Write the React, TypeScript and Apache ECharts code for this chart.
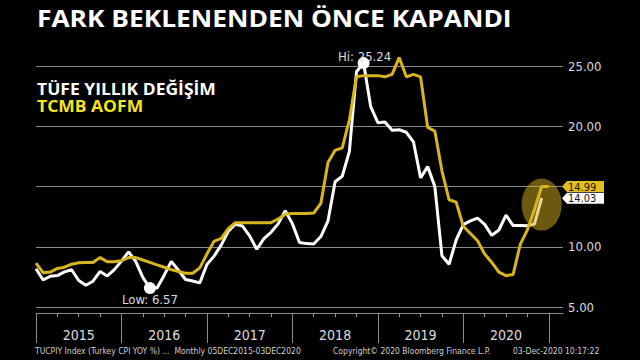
import React, { useEffect, useRef } from "react";
import * as echarts from "echarts";

// Month-end categories: Dec 2014 .. Feb 2021
const months: string[] = [];
for (let i = 0; i < 75; i++) {
  const d = new Date(2014, 11 + i, 1);
  months.push(`${d.getFullYear()}-${String(d.getMonth() + 1).padStart(2, "0")}`);
}

// TÜFE yıllık değişim (Dec 2014 .. Nov 2020)
const cpi = [
  8.17,
  7.24, 7.55, 7.61, 7.91, 8.09, 7.2, 6.81, 7.14, 7.95, 7.58, 8.1, 8.81,
  9.58, 8.78, 7.46, 6.57, 6.58, 7.64, 8.79, 8.05, 7.28, 7.16, 7.0, 8.53,
  9.22, 10.13, 11.29, 11.87, 11.72, 10.9, 9.79, 10.68, 11.2, 11.9, 12.98, 11.92,
  10.35, 10.26, 10.23, 10.85, 12.15, 15.39, 15.85, 17.9, 24.52, 25.24, 21.62, 20.3,
  20.35, 19.67, 19.71, 19.5, 18.71, 15.72, 16.65, 15.01, 9.26, 8.55, 10.56, 11.84,
  12.15, 12.37, 11.86, 10.94, 11.39, 12.62, 11.76, 11.77, 11.75, 11.89, 14.03,
];

// TCMB AOFM (Dec 2014 .. Dec 2020)
const aofm = [
  8.65,
  7.85, 7.9, 8.2, 8.3, 8.55, 8.67, 8.7, 8.7, 9.1, 8.75, 8.75, 8.85,
  9.1, 9.1, 8.9, 8.7, 8.5, 8.3, 8.1, 7.95, 7.8, 7.8, 8.25, 9.4,
  10.45, 10.7, 11.5, 12.0, 12.0, 12.0, 12.0, 12.0, 12.0, 12.3, 12.7, 12.75,
  12.75, 12.75, 12.8, 13.6, 17.0, 18.0, 18.2, 20.5, 24.1, 24.2, 24.2, 24.2,
  24.1, 24.3, 25.7, 24.1, 24.3, 24.1, 19.9, 19.6, 16.3, 13.9, 13.7, 11.7,
  11.1, 10.5, 9.4, 8.7, 7.9, 7.6, 7.7, 10.2, 11.4, 13.1, 15.0, 14.99,
];

const yTicks = { min: 5, max: 25, interval: 5 };

const title = "FARK BEKLENENDEN ÖNCE KAPANDI";
const legendCpi = "TÜFE YILLIK DEĞİŞİM";
const legendAofm = "TCMB AOFM";
const footerLeft = "TUCPIY Index (Turkey CPI YOY %) ...  Monthly 05DEC2015-03DEC2020";
const footerMid = "Copyright© 2020 Bloomberg Finance L.P.";
const footerRight = "03-Dec-2020 10:17:22";

const hiIdx = cpi.indexOf(Math.max(...cpi));
const loIdx = cpi.indexOf(Math.min(...cpi));

const YELLOW = "#d8b51e";
const GRID = "#8a8a8a";
const TXT = "#dcdcdc";
const NARROW = "'Liberation Sans Narrow', 'DejaVu Sans Condensed', sans-serif";
const COND = "'DejaVu Sans Condensed', 'Liberation Sans Narrow', sans-serif";

export default function App() {
  const ref = useRef<HTMLDivElement>(null);
  useEffect(() => {
    if (!ref.current) return;
    const chart = echarts.init(ref.current, undefined, { renderer: "svg" });
    const lastA = aofm[aofm.length - 1];
    const lastC = cpi[cpi.length - 1];
    const option: any = {
      animation: false,
      backgroundColor: "#000",
      grid: { left: 36, right: 77, top: 66, bottom: 53 },
      xAxis: [
        {
          type: "category",
          data: months,
          boundaryGap: false,
          offset: 6,
          axisLine: { show: true, lineStyle: { color: "#8a8a8a", width: 1 } },
          axisTick: {
            show: true,
            interval: (i: number) => i % 3 === 0,
            length: 4,
            lineStyle: { color: "#9a9a9a" },
          },
          axisLabel: {
            show: true,
            interval: (i: number) => i % 12 === 6,
            formatter: (v: string) => v.slice(0, 4),
            color: TXT,
            fontFamily: NARROW,
            fontSize: 14,
            margin: 15,
          },
          splitLine: { show: false },
        },
        {
          type: "category",
          data: months,
          boundaryGap: false,
          position: "bottom",
          offset: 6,
          axisLine: { show: false },
          axisTick: {
            show: true,
            interval: (i: number) => i % 12 === 0,
            length: 30,
            lineStyle: { color: "#8a8a8a" },
          },
          axisLabel: { show: false },
          splitLine: { show: false },
        },
      ],
      yAxis: {
        type: "value",
        position: "right",
        min: yTicks.min,
        max: yTicks.max,
        interval: yTicks.interval,
        axisLine: { show: false },
        axisTick: { show: false },
        axisLabel: {
          // the tick hidden behind the last-value tag is left blank
          formatter: (v: number) => (Math.abs(v - lastA) < 1 ? "" : v.toFixed(2)),
          color: TXT,
          fontFamily: COND,
          fontSize: 13,
          margin: 5,
        },
        splitLine: { show: true, lineStyle: { color: GRID, width: 1 } },
      },
      series: [
        {
          name: legendCpi,
          type: "line",
          data: cpi,
          symbol: "none",
          clip: false,
          lineStyle: { color: "#ffffff", width: 3 },
          z: 2,
        },
        {
          name: legendAofm,
          type: "line",
          data: aofm,
          symbol: "none",
          clip: false,
          lineStyle: { color: YELLOW, width: 3 },
          z: 3,
          markPoint: {
            z: 5,
            symbol: "circle",
            symbolSize: [40, 52],
            silent: true,
            itemStyle: { color: "rgba(214,178,30,0.5)" },
            label: { show: false },
            data: [{ coord: [70.7, 13.5] }],
          },
        },
        {
          name: "hilo",
          type: "scatter",
          clip: false,
          symbol: "circle",
          symbolSize: 12,
          z: 6,
          itemStyle: { color: "#ffffff", opacity: 1 },
          data: [
            {
              value: [hiIdx, cpi[hiIdx]],
              label: {
                show: true,
                position: "inside",
                offset: [1, -7],
                formatter: `Hi: ${cpi[hiIdx].toFixed(2)}`,
                color: TXT,
                fontFamily: COND,
                fontSize: 13,
              },
            },
            {
              value: [loIdx, cpi[loIdx]],
              label: {
                show: true,
                position: "inside",
                offset: [0, 11],
                formatter: `Low: ${cpi[loIdx].toFixed(2)}`,
                color: TXT,
                fontFamily: COND,
                fontSize: 13,
              },
            },
          ],
        },
      ],
    };
    chart.setOption(option);

    const xr = chart.convertToPixel({ xAxisIndex: 0 }, months[months.length - 1]) as number;
    const yA = chart.convertToPixel({ yAxisIndex: 0 }, lastA) as number;
    const yC = chart.convertToPixel({ yAxisIndex: 0 }, lastC) as number;
    const tag = (y: number, val: number, bg: string, fg: string) => ({
      type: "group",
      children: [
        {
          type: "polygon",
          shape: {
            points: [
              [xr - 1, y],
              [xr + 4, y - 5.5],
              [xr + 41, y - 5.5],
              [xr + 41, y + 5.5],
              [xr + 4, y + 5.5],
            ],
          },
          style: { fill: bg },
        },
        {
          type: "text",
          x: xr + 5,
          y: y + 0.5,
          style: {
            text: val.toFixed(2),
            fill: fg,
            font: `11px ${COND}`,
            verticalAlign: "middle",
          },
        },
      ],
    });

    chart.setOption({
      graphic: [
        {
          type: "text",
          x: 37,
          y: 7,
          scaleX: 1.145,
          style: { text: title, fill: "#ffffff", font: `bold 23px 'Open Sans', sans-serif` },
        },
        {
          type: "text",
          x: 37,
          y: 80,
          scaleX: 1.06,
          style: { text: legendCpi, fill: "#ffffff", font: `bold 16.5px 'Open Sans', sans-serif` },
        },
        {
          type: "text",
          x: 37,
          y: 97,
          scaleX: 1.06,
          style: { text: legendAofm, fill: "#f6e51c", font: `bold 16.5px 'Open Sans', sans-serif` },
        },
        {
          type: "text",
          left: 35,
          top: 346,
          style: { text: footerLeft, fill: "#cfcfcf", font: `8.5px ${COND}` },
        },
        {
          type: "text",
          left: 333,
          top: 346,
          style: { text: footerMid, fill: "#cfcfcf", font: `8.5px ${COND}` },
        },
        {
          type: "text",
          left: 513,
          top: 346,
          style: { text: footerRight, fill: "#cfcfcf", font: `8.5px ${COND}` },
        },
        tag(yA, lastA, "#e2bf1c", "#1a1400"),
        tag(yC, lastC, "#ffffff", "#111111"),
      ],
    });
    return () => chart.dispose();
  }, []);
  return (
    <div
      ref={ref}
      style={{ position: "fixed", left: 0, top: 0, width: 640, height: 360, background: "#000" }}
    />
  );
}
